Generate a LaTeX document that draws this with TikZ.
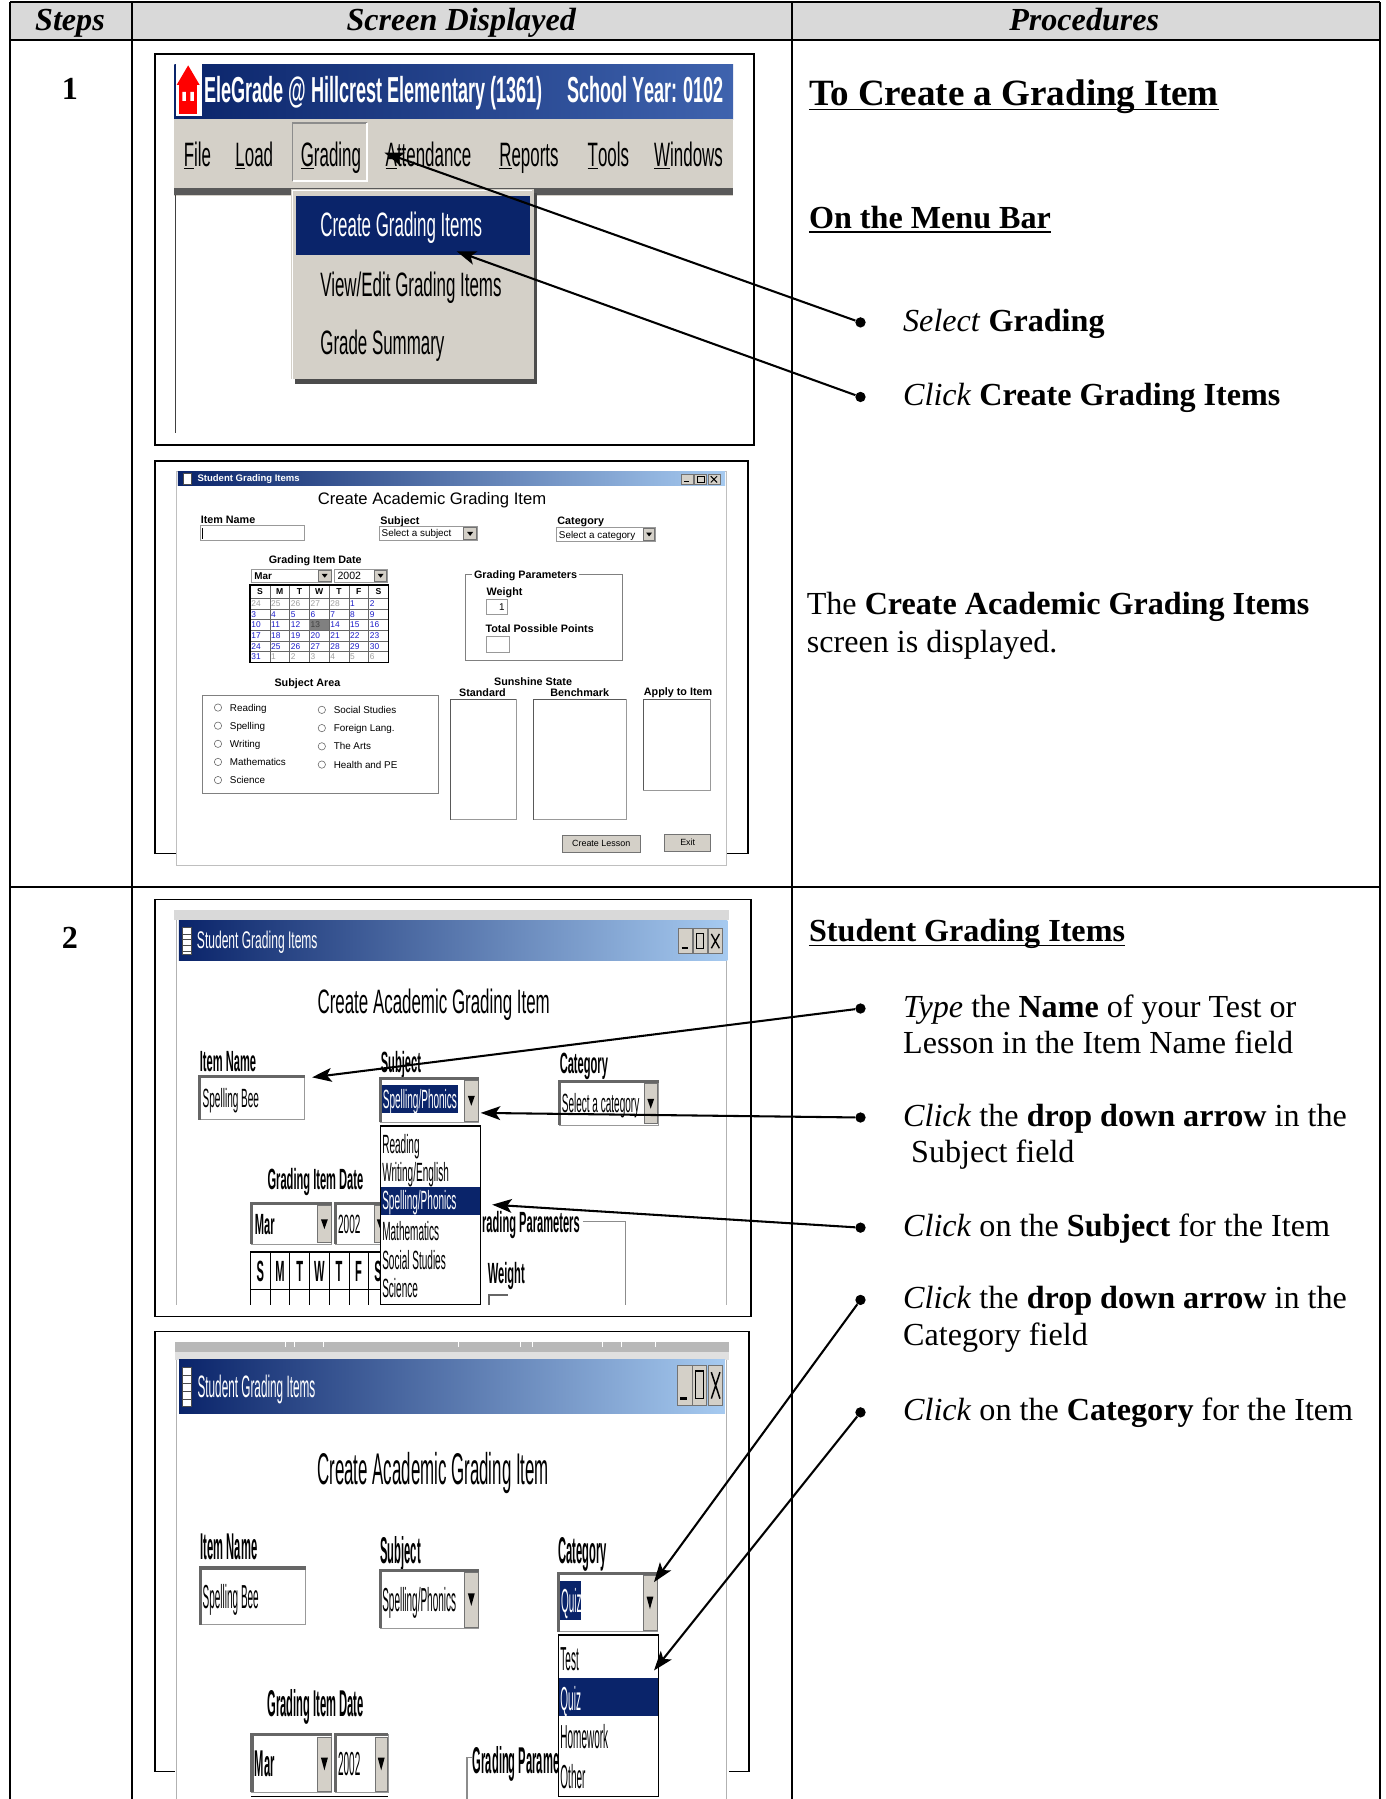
\documentclass[tikz,border=0pt]{standalone}
\usepackage{fontspec}
\setmainfont{Liberation Serif}
\setsansfont{Liberation Sans}
\newfontfamily\scrfont[FakeStretch=0.5]{Liberation Sans}
\newfontfamily\scrfontB[FakeStretch=0.38]{Liberation Sans}
\newfontfamily\scrfontC[FakeStretch=0.3]{Liberation Sans}
\usetikzlibrary{arrows.meta}
\definecolor{hdrgray}{HTML}{D9D9D9}
\definecolor{winblue}{HTML}{0A246A}
\definecolor{winlight}{HTML}{A6CAF0}
\definecolor{barmid}{HTML}{3F63AE}
\definecolor{wingray}{HTML}{D4D0C8}
\definecolor{datblue}{HTML}{1C1CC8}
\definecolor{datgray}{HTML}{A0A0A0}
\newcommand\fsz[1]{\fontsize{#1}{#1}\selectfont}

\begin{document}
\begin{tikzpicture}[
        x=1pt, y=-1pt,
        txt/.style={inner sep=0pt, anchor=base west, font=\fsz{28}},
        head/.style={inner sep=0pt, anchor=base, font=\fsz{28}\bfseries\itshape},
        dot/.style={circle, fill, inner sep=0pt, minimum size=9pt},
        arr/.style={line width=1.8pt, -{Stealth[length=17pt,width=12pt,inset=4pt]}},
        grid/.style={line width=1.6pt},
        frame/.style={draw, line width=1.3pt},
        win/.style={fill=white, draw=black!25, line width=0.8pt},
        field/.style={fill=white, draw=black!40, line width=0.7pt},
        btn/.style={fill=wingray, draw=black!55, line width=0.6pt},
        mtxt/.style={inner sep=0pt, anchor=base west, font=\scrfont\fsz{29.5}},
        dlab/.style={inner sep=0pt, anchor=base west, font=\sffamily\bfseries\fsz{9.4}},
        dtxt/.style={inner sep=0pt, anchor=base west, font=\sffamily\fsz{8.6}},
        alab/.style={inner sep=0pt, anchor=base west, font=\scrfontB\bfseries\fsz{25.5}},
        atxt/.style={inner sep=0pt, anchor=base west, font=\scrfontB\fsz{23}},
        blab/.style={inner sep=0pt, anchor=base west, font=\scrfontC\bfseries\fsz{32.5}},
        btxt/.style={inner sep=0pt, anchor=base west, font=\scrfontC\fsz{29}},
        ]
    \useasboundingbox (0,0) rectangle (1208,1568);

    \fill[hdrgray] (9,2) rectangle (1203,35);
    \draw[grid] (9,2) -- (1203,2) (9,35) -- (1203,35) (9,773) -- (1203,773);
    \draw[grid] (9,2) -- (9,1568) (115,2) -- (115,1568) (690,2) -- (690,1568) (1203,2) -- (1203,1568);
    \node[head] (hsteps) at (61,27) {Steps};
    \node[head] (hscreen) at (402,27) {Screen Displayed};
    \node[head] (hproc) at (945,27) {Procedures};
    \node[inner sep=0pt, anchor=base, font=\fsz{28}\bfseries] (step1) at (61,87) {1};
    \node[inner sep=0pt, anchor=base, font=\fsz{28}\bfseries] (step2) at (61,827) {2};

    \draw[frame] (135,47) rectangle (657,388);
    \shade[left color=winblue, right color=barmid] (152,56) rectangle (639,104);
    \fill[white] (153,56) rectangle (176,101);
    \fill[red] (164,57) -- (174,74) -- (154,74) -- cycle;
    \fill[red] (156,74) rectangle (172,99);
    \fill[white] (159,80) rectangle (162,88) (166,80) rectangle (169,88);
    \node[inner sep=0pt, anchor=base west, text=white, font=\scrfont\bfseries\fsz{31.5}] (apptitle) at (178,89) {EleGrade @ Hillcrest Elementary (1361)\hspace{22pt}School Year: 0102};
    \fill[wingray] (152,104) rectangle (639,171);
    \fill[black!65] (152,164) rectangle (639,170);
    \draw[black!45, line width=1.5pt] (255,158) -- (255,107) -- (320,107);
    \draw[white, line width=1.5pt] (320,107) -- (320,158) -- (255,158);
    \node[mtxt] (mfile) at (160,145) {\underline{F}ile};
    \node[mtxt] (mload) at (205,145) {\underline{L}oad};
    \node[mtxt] (mgrad) at (262,145) {\underline{G}rading};
    \node[mtxt] (matt) at (336,145) {\underline{A}ttendance};
    \node[mtxt] (mrep) at (435,145) {\underline{R}eports};
    \node[mtxt] (mtools) at (512,145) {\underline{T}ools};
    \node[mtxt] (mwin) at (570,145) {\underline{W}indows};
    \draw[black!75, line width=1.3pt] (153,170) -- (153,377);
    \fill[black!70] (257,168) rectangle (468,335);
    \fill[wingray] (254,165) rectangle (465,330);
    \draw[white, line width=1.2pt] (255,330) -- (255,166) -- (464,166);
    \fill[winblue] (258,171) rectangle (462,222);
    \node[mtxt, text=white] (mcreate) at (279,206) {Create Grading Items};
    \node[mtxt] (mview) at (279,258.5) {View/Edit Grading Items};
    \node[mtxt] (msum) at (279,309) {Grade Summary};

    \draw[frame] (135,402) rectangle (652,744);
    \filldraw[win] (154,411) rectangle (633,754);
    \shade[left color=winblue, right color=winlight] (155,411) rectangle (632,423);
    \filldraw[fill=white, draw=black!70, line width=0.4pt] (160,412.5) rectangle (167,422);
    \node[inner sep=0pt, anchor=base west, text=white, font=\sffamily\bfseries\fsz{8.3}] (dlgbar) at (172,420) {Student Grading Items};
    \foreach \xa in {594,605.5,617} \filldraw[btn] (\xa,413) rectangle ++(10.5,9);
    \draw[line width=1pt] (596.5,419.8) -- (600.5,419.8);
    \draw[line width=0.6pt] (608,415) rectangle (613.5,420.5);
    \draw[line width=0.8pt] (619.5,415) -- (625,420.5) (625,415) -- (619.5,420.5);
    \node[inner sep=0pt, anchor=base, font=\sffamily\fsz{14.5}] (dlgtitle) at (376.5,439.5) {Create Academic Grading Item};
    \node[dlab] (dname) at (174.8,456.5) {Item Name};
    \node[dlab] (dsubj) at (331.4,457.1) {Subject};
    \node[dlab] (dcat) at (485.6,457.1) {Category};
    \foreach \xa/\ya/\xb/\yb in {175/458/265.6/471, 330.7/459/416/471, 485/459.5/571.4/472, 219.5/496/289/507.5, 291.4/496/337.5/507.5}
        \filldraw[field] (\xa,\ya) rectangle (\xb,\yb);
    \draw[line width=0.7pt] (176.8,460) -- (176.8,469.5);
    \node[dtxt] (dsubjv) at (332.5,468) {Select a subject};
    \node[dtxt] (dcatv) at (487,469) {Select a category};
    \node[dtxt, font=\sffamily\bfseries\fsz{8.6}] (dmon) at (221.5,505) {Mar};
    \node[dtxt, font=\sffamily\fsz{9.2}] (dyear) at (294,505) {2002};
    \foreach \xa/\ya/\xb/\yb in {404/460/415.5/470.5, 561/460.5/570.5/471, 277.5/497/288.5/506.5, 326.5/497/337/506.5} {
        \filldraw[btn] (\xa,\ya) rectangle (\xb,\yb);
        \fill ({(\xa+\xb)/2-2.6},{(\ya+\yb)/2-1.6}) -- ++(5.2,0) -- ++(-2.6,3.4) -- cycle;
    }
    \node[dlab, anchor=base] (ddate) at (274.8,491.4) {Grading Item Date};
    \foreach \c in {1,...,6} \draw[black!60, line width=0.5pt] ({218+17.2*\c},509.8) -- ({218+17.2*\c},577.5);
    \foreach \r in {0,...,5} \draw[black!60, line width=0.5pt] (218,{521.4+9.3*\r}) -- (338.5,{521.4+9.3*\r});
    \fill[black!50] ({218+17.2*3},{521.4+9.3*2}) rectangle ++(17.2,9.3);
    \draw[line width=1.2pt] (218,509.8) rectangle (338.5,577.5);
    \foreach \lbl [count=\c from 0] in {S,M,T,W,T,F,S}
        \node[inner sep=0pt, anchor=base, font=\sffamily\bfseries\fsz{7.5}] (calh\c) at ({226.6+17.2*\c},518.4) {\lbl};
    \foreach \r in {0,...,5} \foreach \c in {0,...,6} {
        \pgfmathtruncatemacro\dn{7*\r+\c-4}
        \ifnum\dn<1 \pgfmathtruncatemacro\dv{\dn+28}\def\dc{datgray}
        \else\ifnum\dn>31 \pgfmathtruncatemacro\dv{\dn-31}\def\dc{datgray}
        \else \let\dv\dn \def\dc{datblue}\fi\fi
        \ifnum\dn=13 \def\dc{black!75}\fi
        \node[dtxt, font=\sffamily\fsz{7.3}, text=\dc] (cal\r\c) at ({219+17.2*\c},{528.6+9.3*\r}) {\dv};
    }
    \draw[black!50, line width=0.6pt] (406,500.5) rectangle (542.6,575.2);
    \node[dlab, fill=white, inner xsep=1.5pt] (dparam) at (411.5,503.9) {Grading Parameters};
    \node[dlab] (dweight) at (424,519) {Weight};
    \filldraw[field] (424.3,522) rectangle (442.6,535.4);
    \node[dtxt, anchor=base east] (dwval) at (440,531.8) {1};
    \node[dlab] (dpoints) at (423,551.5) {Total Possible Points};
    \filldraw[field] (424.3,554.8) rectangle (444.3,568.5);
    \node[dlab, anchor=base] (darea) at (268,598.4) {Subject Area};
    \draw[black!50, line width=0.6pt] (176.5,605.7) rectangle (382.2,691.4);
    \foreach \lbl [count=\i from 0] in {Reading,Spelling,Writing,Mathematics,Science} {
        \draw[black!60, fill=white, line width=0.5pt] (190,{616.7+15.8*\i}) circle (3.2pt);
        \node[dtxt] (rl\i) at (200.2,{619.8+15.8*\i}) {\lbl};
    }
    \foreach \lbl [count=\i from 0] in {Social Studies,Foreign Lang.,The Arts,Health and PE} {
        \draw[black!60, fill=white, line width=0.5pt] (280.5,{618.7+15.9*\i}) circle (3.2pt);
        \node[dtxt] (rr\i) at (290.7,{621.8+15.9*\i}) {\lbl};
    }
    \node[dlab, anchor=base] (dsun) at (464.6,597.4) {Sunshine State};
    \node[dlab, anchor=base] (dstd) at (420.5,606.7) {Standard};
    \node[dlab, anchor=base] (dbench) at (505.3,606.7) {Benchmark};
    \node[dlab, anchor=base] (dapply) at (591,606.2) {Apply to Item};
    \foreach \xa/\ya/\xb/\yb in {392.8/610/450/714.6, 465.3/610/546/714.6, 560.6/610/618.8/688.5} {
        \filldraw[field] (\xa,\ya) rectangle (\xb,\yb);
        \draw[black!65, line width=0.9pt] (\xa,\yb) -- (\xa,\ya) -- (\xb,\ya);
    }
    \node[btn, minimum width=68pt, minimum height=15pt, inner sep=0pt, font=\sffamily\fsz{7.8}] (mklesson) at (524,735.2) {Create Lesson};
    \node[btn, minimum width=40pt, minimum height=15pt, inner sep=0pt, font=\sffamily\fsz{7.8}] (dexit) at (599.4,734.5) {Exit};

    \draw[frame] (135,784) rectangle (654.5,1147.5);
    \fill[white] (152,793) rectangle (635,1137.4);
    \fill[black!15] (152,793) rectangle (635,802);
    \draw[black!30, line width=0.8pt] (153.5,802) -- (153.5,1137.4) (633.5,802) -- (633.5,1137.4);
    \shade[left color=winblue, right color=winlight] (156,802) rectangle (634,837);
    \filldraw[fill=white, draw=black!70, line width=0.5pt] (158.5,808) rectangle (166.5,832);
    \foreach \ya in {814,819,824,829} \draw[black!70, line width=0.5pt] (158.5,\ya) -- (166.5,\ya);
    \node[inner sep=0pt, anchor=base west, text=white, font=\scrfont\fsz{21}] (abar) at (171.5,826.8) {Student Grading Items};
    \foreach \xa in {591,604,617} \filldraw[btn] (\xa,809) rectangle ++(12.5,22);
    \draw[line width=2pt] (594,826.5) -- (599.5,826.5);
    \draw[line width=1pt] (607,813.5) rectangle (613.5,826.5);
    \draw[line width=1.2pt] (620,814) -- (627,826.5) (627,814) -- (620,826.5);
    \node[inner sep=0pt, anchor=base, font=\scrfont\fsz{29.5}] (atitle) at (378,883) {Create Academic Grading Item};
    \node[alab] (aname) at (174,933.5) {Item Name};
    \node[alab] (asubj) at (331.7,934.4) {Subject};
    \node[alab] (acat) at (487.7,935.3) {Category};
    \foreach \xa/\ya/\xb/\yb in {174/938.4/265.6/976, 331.4/939.8/417.2/978.2, 487.7/942.7/574.1/980.5, 219.5/1048.8/289/1084.2, 292.4/1048.8/338/1084.2} {
        \filldraw[field] (\xa,\ya) rectangle (\xb,\yb);
        \draw[black!60, line width=2.5pt] (\xa,\yb) -- (\xa,\ya) -- (\xb,\ya);
    }
    \node[atxt] (anamev) at (176.5,965.5) {Spelling Bee};
    \fill[winblue] (333,945.6) rectangle (399.2,969.8);
    \node[atxt, text=white] (asubjv) at (333.5,965.9) {Spelling/Phonics};
    \node[atxt] (acatv) at (489.5,969.8) {Select a category};
    \node[alab] (adate) at (233,1037) {Grading Item Date};
    \node[alab] (amon) at (222,1075.6) {Mar};
    \node[atxt] (ayear) at (294.5,1074.7) {2002};
    \foreach \xa/\ya/\xb/\yb in {404.6/941.5/417/977, 561.2/944.5/573.1/979, 277/1050.5/288.5/1083, 326/1050.5/336.8/1083} {
        \filldraw[btn] (\xa,\ya) rectangle (\xb,\yb);
        \fill ({(\xa+\xb)/2-3},{(\ya+\yb)/2-4}) -- ++(6,0) -- ++(-3,8.5) -- cycle;
    }
    \draw[line width=1.5pt] (218,1091) -- (340,1091);
    \draw[line width=0.8pt] (218,1124.3) -- (340,1124.3);
    \foreach \xa in {218.2,235.8,252.7,269.7,287.3,304.3,321.2} \draw[line width=0.8pt] (\xa,1091) -- (\xa,1137.4);
    \foreach \lbl [count=\i from 0] in {S,M,T,W,T,F,S}
        \node[alab, anchor=base] (ach\i) at ({227+17.1*\i},1116.7) {\lbl};
    \node[alab] (aparam) at (420,1073.8) {rading Parameters};
    \draw[black!45, line width=1pt] (508,1064.5) -- (545,1064.5) -- (545,1137.4);
    \node[alab] (aweight) at (425,1118.9) {Weight};
    \draw[black!60, line width=2pt] (426,1137.4) -- (426,1129) -- (443,1129);
    \filldraw[fill=white, draw=black, line width=1.2pt] (331.4,981.4) rectangle (418.9,1136.8);
    \fill[winblue] (332.5,1034.2) rectangle (418,1059);
    \node[atxt] (aread) at (333,1005.2) {Reading};
    \node[atxt] (awrite) at (333,1029.4) {Writing/English};
    \node[atxt, text=white] (aspell) at (333,1054.1) {Spelling/Phonics};
    \node[atxt] (amath) at (333,1080.8) {Mathematics};
    \node[atxt] (asoc) at (333,1106.4) {Social Studies};
    \node[atxt] (asci) at (333,1131) {Science};

    \draw[frame] (135,1160.6) rectangle (652.8,1544);
    \fill[white] (152.7,1169.3) rectangle (635,1568);
    \fill[black!28] (152.7,1169.3) rectangle (635,1178);
    \fill[black!12] (152.7,1178) rectangle (635,1185.3);
    \foreach \xa in {249,257,282,400,454,464,525,542,571} \draw[white, line width=0.8pt] (\xa,1170) -- (\xa,1174);
    \draw[black!30, line width=0.8pt] (154,1185.3) -- (154,1568) (633.5,1185.3) -- (633.5,1568);
    \shade[left color=winblue, right color=winlight] (156.1,1185.3) rectangle (631.8,1231.7);
    \filldraw[fill=white, draw=black!70, line width=0.5pt] (158.5,1192) rectangle (167,1226);
    \foreach \ya in {1199,1206,1213,1220} \draw[black!70, line width=0.5pt] (158.5,\ya) -- (167,\ya);
    \node[inner sep=0pt, anchor=base west, text=white, font=\scrfontB\fsz{27}] (bbar) at (172,1218) {Student Grading Items};
    \foreach \xa in {590,603,617} \filldraw[btn] (\xa,1189.6) rectangle ++(13,35.7);
    \draw[line width=2.5pt] (593,1219) -- (599,1219);
    \draw[line width=1.2pt] (606,1195) rectangle (613,1219);
    \draw[line width=1.3pt] (620,1196) -- (627.5,1219) (627.5,1196) -- (620,1219);
    \node[inner sep=0pt, anchor=base, font=\scrfontB\fsz{38.7}] (btitle) at (377.5,1294) {Create Academic Grading Item};
    \node[blab] (bname) at (174.8,1359.6) {Item Name};
    \node[blab] (bsubj) at (331.4,1362.4) {Subject};
    \node[blab] (bcat) at (486.6,1362.4) {Category};
    \foreach \xa/\ya/\xb/\yb in {174.8/1366.8/266.3/1416.2, 331.4/1368.9/417.2/1419.1, 486.6/1371.2/573/1422, 219.5/1512/289/1562.3, 292.4/1512/338.2/1562.3} {
        \filldraw[field] (\xa,\ya) rectangle (\xb,\yb);
        \draw[black!60, line width=3pt] (\xa,\yb) -- (\xa,\ya) -- (\xb,\ya);
    }
    \node[btxt] (bnamev) at (176.5,1401.9) {Spelling Bee};
    \node[btxt] (bsubjv) at (333,1404.2) {Spelling/Phonics};
    \fill[winblue] (488.3,1378.4) rectangle (506.3,1411.8);
    \node[btxt, text=white] (bcatv) at (488.8,1405.4) {Quiz};
    \node[blab] (bdate) at (233,1496.1) {Grading Item Date};
    \node[blab] (bmon) at (222,1548.6) {Mar};
    \node[btxt] (byear) at (294.5,1547.4) {2002};
    \foreach \xa/\ya/\xb/\yb in {404.6/1370.5/417/1418, 560.5/1373/572.5/1421, 277/1514/288.5/1561, 327/1514/337.5/1561} {
        \filldraw[btn] (\xa,\ya) rectangle (\xb,\yb);
        \fill ({(\xa+\xb)/2-3},{(\ya+\yb)/2-5.5}) -- ++(6,0) -- ++(-3,11) -- cycle;
    }
    \draw[line width=1.2pt] (219,1566) -- (338,1566);
    \draw[black!45, line width=1pt] (411,1531.5) -- (407,1531.5) -- (407,1568);
    \node[blab] (bparam) at (412,1545.5) {Grading Parame};
    \filldraw[fill=white, draw=black, line width=1.2pt] (486.6,1425) rectangle (574.1,1565.8);
    \fill[winblue] (487.5,1462.7) rectangle (573.5,1495.5);
    \node[btxt] (btest) at (488.3,1455.7) {Test};
    \node[btxt, text=white] (bquiz) at (488.3,1490.5) {Quiz};
    \node[btxt] (bhome) at (488.3,1523.9) {Homework};
    \node[btxt] (bother) at (488.3,1558.8) {Other};

    \node[txt, font=\fsz{32.3}\bfseries] (maintitle) at (705,92) {To Create a Grading Item};
    \draw[line width=1.6pt] ([yshift=-3.5pt]maintitle.base west) -- ([yshift=-3.5pt]maintitle.base east);
    \node[txt, font=\fsz{28}\bfseries] (menuhead) at (705,199) {On the Menu Bar};
    \draw[line width=1.5pt] ([yshift=-3.2pt]menuhead.base west) -- ([yshift=-3.2pt]menuhead.base east);
    \node[dot] (b1) at (750,281) {};
    \node[txt] (s1) at (787,288.5) {\textit{Select} \textbf{Grading}};
    \node[dot] (b2) at (750,346) {};
    \node[txt] (s2) at (787,353.5) {\textit{Click} \textbf{Create Grading Items}};
    \node[txt] (scr1) at (703,536) {The \textbf{Create Academic Grading Items}};
    \node[txt] (scr2) at (703,569) {screen is displayed.};
    \node[txt, font=\fsz{28}\bfseries] (gradehead) at (705,821) {Student Grading Items};
    \draw[line width=1.5pt] ([yshift=-3.2pt]gradehead.base west) -- ([yshift=-3.2pt]gradehead.base east);
    \node[dot] (b3) at (750,879) {};
    \node[txt] (s3a) at (787,886.5) {\textit{Type} the \textbf{Name} of your Test or};
    \node[txt] (s3b) at (787,918.5) {Lesson in the Item Name field};
    \node[dot] (b4) at (750,974) {};
    \node[txt] (s4a) at (787,981.5) {\textit{Click} the \textbf{drop down arrow} in the};
    \node[txt] (s4b) at (794,1013.5) {Subject field};
    \node[dot] (b5) at (750,1070) {};
    \node[txt] (s5) at (787,1077.5) {\textit{Click} on the \textbf{Subject} for the Item};
    \node[dot] (b6) at (750,1133) {};
    \node[txt] (s6a) at (787,1140.5) {\textit{Click} the \textbf{drop down arrow} in the};
    \node[txt] (s6b) at (787,1172.5) {Category field};
    \node[dot] (b7) at (750,1231) {};
    \node[txt] (s7) at (787,1238.5) {\textit{Click} on the \textbf{Category} for the Item};

    \coordinate (t1) at (335,133);
    \coordinate (t2) at (398,219);
    \coordinate (t3) at (272,939);
    \coordinate (t4) at (419,970);
    \coordinate (t5) at (429,1050);
    \coordinate (t6) at (570,1379);
    \coordinate (t7) at (570,1456);
    \draw[arr] (b1) -- (t1);
    \draw[arr] (b2) -- (t2);
    \draw[arr] (b3) -- (t3);
    \draw[arr] (b4) -- (t4);
    \draw[arr] (b5) -- (t5);
    \draw[arr] (b6) -- (t6);
    \draw[arr] (b7) -- (t7);
\end{tikzpicture}
\end{document}
